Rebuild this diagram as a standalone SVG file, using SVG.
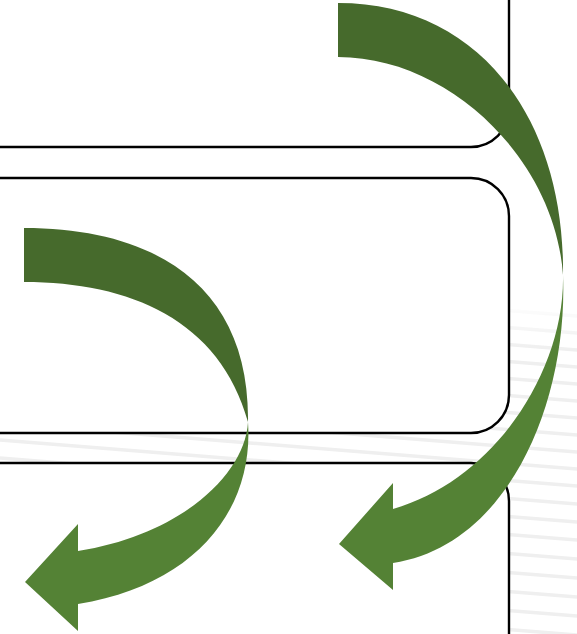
<svg xmlns="http://www.w3.org/2000/svg" width="577" height="634" viewBox="0 0 577 634">
  <defs>
    <style>
      .box { fill: #ffffff; stroke: #000000; stroke-width: 2.4; }
      .stripe { stroke: #efefef; stroke-width: 3.5; }
      .dark { fill: #466A2C; }
      .light { fill: #548235; }
    </style>
    <linearGradient id="fade" x1="0" y1="0" x2="0" y2="1" gradientUnits="objectBoundingBox">
      <stop offset="0" stop-color="#fff" stop-opacity="0"/>
      <stop offset="0.15" stop-color="#fff" stop-opacity="1"/>
      <stop offset="1" stop-color="#fff" stop-opacity="1"/>
    </linearGradient>
    <mask id="stripeMask" maskUnits="userSpaceOnUse" x="0" y="0" width="577" height="634">
      <rect x="0" y="300" width="577" height="334" fill="url(#fade)"/>
    </mask>
  </defs>
  <rect x="0" y="0" width="577" height="634" fill="#ffffff"/>
  <g id="background-stripes" mask="url(#stripeMask)">
    <line class="stripe" x1="0" y1="270" x2="577" y2="316"/>
    <line class="stripe" x1="0" y1="287" x2="577" y2="333"/>
    <line class="stripe" x1="0" y1="304" x2="577" y2="350"/>
    <line class="stripe" x1="0" y1="321" x2="577" y2="367"/>
    <line class="stripe" x1="0" y1="338" x2="577" y2="384"/>
    <line class="stripe" x1="0" y1="355" x2="577" y2="401"/>
    <line class="stripe" x1="0" y1="372" x2="577" y2="418"/>
    <line class="stripe" x1="0" y1="389" x2="577" y2="435"/>
    <line class="stripe" x1="0" y1="406" x2="577" y2="452"/>
    <line class="stripe" x1="0" y1="423" x2="577" y2="469"/>
    <line class="stripe" x1="0" y1="440" x2="577" y2="486"/>
    <line class="stripe" x1="0" y1="458" x2="577" y2="504"/>
    <line class="stripe" x1="0" y1="476" x2="577" y2="522"/>
    <line class="stripe" x1="0" y1="494" x2="577" y2="540"/>
    <line class="stripe" x1="0" y1="513" x2="577" y2="559"/>
    <line class="stripe" x1="0" y1="532" x2="577" y2="578"/>
    <line class="stripe" x1="0" y1="551" x2="577" y2="597"/>
    <line class="stripe" x1="0" y1="570" x2="577" y2="616"/>
    <line class="stripe" x1="0" y1="589" x2="577" y2="635"/>
    <line class="stripe" x1="0" y1="608" x2="577" y2="654"/>
  </g>
  <g id="box-top">
    <rect class="box" x="-60" y="-100" width="569" height="247" rx="38" ry="38"/>
  </g>
  <g id="box-middle">
    <rect class="box" x="-60" y="178" width="569" height="255" rx="38" ry="38"/>
  </g>
  <g id="box-bottom">
    <rect class="box" x="-60" y="463" width="569" height="300" rx="38" ry="38"/>
  </g>
  <g id="arrows">
    <g id="arrow-left">
      <path class="dark" d="M24,228 C160,228 250,290 248,422 C220,320 130,282 24,282 Z"/>
      <path class="light" d="M248,422 C254,510 195,585 78,604 L78,631 L25,582 L78,524 L78,551 C180,535 245,475 248,422 Z"/>
    </g>
    <g id="arrow-right">
      <path class="dark" d="M338,3 C480,3 565,120 563,275 C555,160 450,57 338,57 Z"/>
      <path class="light" d="M563,275 C568,400 510,545 393,563 L393,590 L339,544 L393,483 L393,509 C495,480 565,370 563,275 Z"/>
    </g>
  </g>
</svg>
